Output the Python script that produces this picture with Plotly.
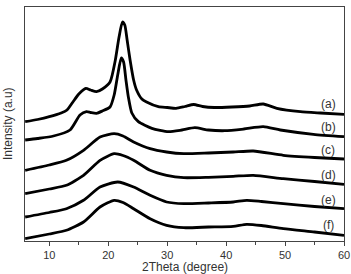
import plotly.graph_objects as go

# 2Theta positions (degree) and intensities (arbitrary units, stacked offsets as read)
x_a = [5.9, 8, 10, 12, 13, 14, 15, 16.2, 17, 18, 19, 20.3, 21.2, 21.8, 22.4, 22.8, 23.2, 23.7, 24.3, 24.8,
       25.7, 26.5, 28.5, 30, 31.5, 33, 34.5, 36, 38, 41, 44, 46.3, 48.6, 52.6, 56, 60]
y_a = [119.3, 121.5, 124.3, 128, 131, 139, 147, 152.7, 151, 149.3, 152, 159, 181, 203, 219, 216, 201, 181, 161, 151,
       142, 139, 134.3, 133.5, 132.7, 134.5, 136.5, 134.5, 133.5, 134, 135, 137, 132.7, 129.3, 128, 126.7]

x_b = [5.9, 8, 10.7, 13.5, 15.2, 16.3, 17, 18, 19, 20.3, 21, 21.6, 22.2, 22.6, 23.0, 23.4, 24.0, 25.1,
       27.4, 30.2, 32.5, 34.7, 37, 39.8, 43, 46.3, 49.2, 54.8, 60]
y_b = [101, 102.5, 105, 111, 126, 129.3, 128.5, 127.7, 130, 134, 146, 166, 183, 179, 161, 144.3, 128, 119.3,
       112.7, 109.3, 111, 113.3, 111, 110.3, 112, 114.3, 111, 106.7, 104.3]

x_c = [5.9, 10, 12.9, 15.8, 18.6, 21, 22.5, 24.3, 27.1, 29.9, 32.8, 37, 41.2, 44.6, 49.7, 55, 60]
y_c = [70.7, 76, 80.7, 90.7, 104, 107.3, 105, 99, 92.3, 89, 87.3, 88, 89, 90, 85.7, 83.5, 82]

x_d = [5.9, 10, 12.9, 15.8, 18.6, 21, 22.5, 24.3, 27.1, 29.9, 32.8, 37, 41.2, 44.6, 49.7, 55, 60]
y_d = [47.3, 52, 55.7, 65.7, 80.7, 87.3, 85.5, 80.7, 70.7, 65.7, 63.3, 63.7, 64.7, 65.7, 62.3, 59.5, 56.7]

x_e = [5.9, 10, 12.9, 15.8, 18.6, 21.6, 24.3, 27.1, 29.9, 32.8, 37, 41.2, 43.5, 46, 49.7, 55, 60]
y_e = [24, 28.5, 32.3, 40.7, 54, 59, 54, 45.7, 39, 37.3, 38, 39, 40.7, 39.5, 37.3, 34.5, 32.3]

x_f = [5.9, 10, 12.9, 15.8, 18.6, 21, 22.5, 24.3, 27.1, 29.9, 32.8, 37, 41.2, 43.5, 46, 49.7, 55, 60]
y_f = [2.3, 7, 10.7, 19, 34, 40.7, 38.5, 32.3, 22.3, 15.7, 13.3, 14, 14.7, 16.7, 15.5, 12.3, 9, 5.7]

labels = ["(a)", "(b)", "(c)", "(d)", "(e)", "(f)"]
label_x = [57.3, 57.3, 57.3, 57.3, 57.3, 57.3]
label_y = [137, 114.3, 90.7, 66.3, 41.3, 15.7]

x_ticks = [10, 20, 30, 40, 50, 60]
x_title = "2Theta (degree)"
y_title = "Intensity (a.u)"

series = [(x_a, y_a), (x_b, y_b), (x_c, y_c), (x_d, y_d), (x_e, y_e), (x_f, y_f)]

fig = go.Figure()
for xs, ys in series:
    fig.add_trace(go.Scatter(x=xs, y=ys, mode="lines",
                             line=dict(color="black", width=2.8, shape="spline", smoothing=0.6),
                             showlegend=False, hoverinfo="skip"))

for t, lx, ly in zip(labels, label_x, label_y):
    fig.add_annotation(x=lx, y=ly, text=t, showarrow=False,
                       font=dict(family="Liberation Sans, Arial", size=12, color="#333333"))

fig.add_annotation(xref="paper", yref="paper", x=0.5, y=-0.111, yanchor="middle",
                   text=x_title, showarrow=False,
                   font=dict(family="Liberation Sans, Arial", size=12, color="#333333"))
fig.add_annotation(xref="paper", yref="paper", x=-0.053, y=0.5, xanchor="center",
                   text=y_title, showarrow=False, textangle=-90,
                   font=dict(family="Liberation Sans, Arial", size=12, color="#333333"))

fig.update_layout(
    width=351, height=274,
    margin=dict(l=25, r=7, t=7, b=33),
    paper_bgcolor="white", plot_bgcolor="white",
    font=dict(family="Liberation Sans, Arial", size=11, color="#333333"),
)
fig.update_xaxes(range=[5.87, 60], tickvals=x_ticks, ticks="outside", ticklen=4, tickcolor="#444444",
                 minor=dict(dtick=5, tick0=5, ticks="outside", ticklen=3, tickcolor="#444444"),
                 showline=True, linecolor="#444444", linewidth=1, mirror=True, showgrid=False,
                 zeroline=False, automargin=False, tickfont=dict(size=11, color="#333333"))
fig.update_yaxes(range=[0, 234], showticklabels=False, ticks="", automargin=False,
                 showline=True, linecolor="#444444", linewidth=1, mirror=True, showgrid=False,
                 zeroline=False)

fig.write_html("out.html")
